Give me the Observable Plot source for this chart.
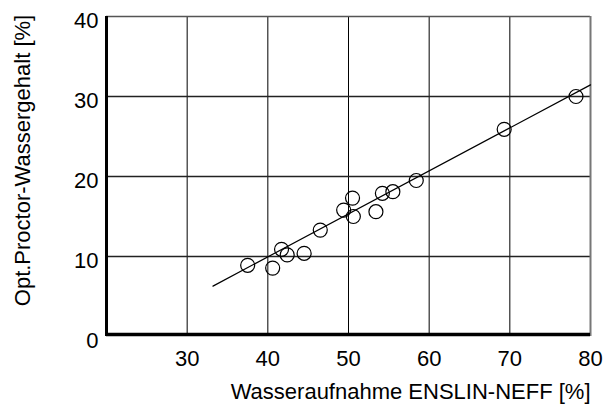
<!DOCTYPE html>
<html>
<head>
<meta charset="utf-8">
<script src="https://cdn.jsdelivr.net/npm/d3@7"></script>
<script src="https://cdn.jsdelivr.net/npm/@observablehq/plot@0.6"></script>
<style>
  html, body { margin: 0; padding: 0; background: #fff; }
  #chart svg { display: block; }
</style>
</head>
<body>
<div id="chart"></div>
<script>
// Data
const wasseraufnahme = [37.5, 40.6, 41.7, 42.4, 44.5, 46.5, 49.4, 50.5, 50.6, 53.4, 54.2, 55.5, 58.4, 69.3, 78.2];
const proctorWasser  = [8.9, 8.55, 10.9, 10.2, 10.4, 13.3, 15.8, 17.3, 15.0, 15.6, 17.9, 18.1, 19.5, 25.9, 30.0];
// regression line end points
const fitX = [33.2, 80];
const fitY = [6.3, 31.45];
const xTicks = [30, 40, 50, 60, 70, 80];
const yTicks = [0, 10, 20, 30, 40];
const xGrid = [30, 40, 50, 60, 70];
const yGrid = [10, 20, 30];
const xTitle = "Wasseraufnahme ENSLIN-NEFF [%]";
const yTitle = "Opt.Proctor-Wassergehalt [%]";

const points = wasseraufnahme.map((x, i) => ({x, y: proctorWasser[i]}));
const fit = fitX.map((x, i) => ({x, y: fitY[i]}));

const chart = Plot.plot({
  width: 605,
  height: 410,
  marginLeft: 106,
  marginRight: 15,
  marginTop: 16,
  marginBottom: 74,
  style: {fontFamily: "'Liberation Sans', Arial, Helvetica, sans-serif", fontSize: "22px", color: "#000", background: "#fff"},
  x: {domain: [20, 80]},
  y: {domain: [0, 40]},
  marks: [
    Plot.ruleX(xGrid, {stroke: "#000", strokeWidth: 1}),
    Plot.ruleY(yGrid, {stroke: "#222", strokeWidth: 1.5}),
    Plot.ruleY([40], {stroke: "#555", strokeWidth: 1.5}),
    Plot.ruleX([80], {stroke: "#777", strokeWidth: 2}),
    Plot.ruleX([20], {stroke: "#000", strokeWidth: 3}),
    Plot.ruleY([0], {stroke: "#000", strokeWidth: 3.5, dy: -2}),
    Plot.axisX(xTicks, {tickSize: 0, tickPadding: 14, label: null, fontSize: 22, tickFormat: d => String(d)}),
    Plot.axisY(yTicks, {tickSize: 0, tickPadding: 8, label: null, fontSize: 22, dy: 4, tickFormat: d => String(d)}),
    Plot.line(fit, {x: "x", y: "y", stroke: "#000", strokeWidth: 1.2}),
    Plot.dot(points, {x: "x", y: "y", r: 7, stroke: "#000", strokeWidth: 1.2, fill: "none"}),
    Plot.text([xTitle], {frameAnchor: "bottom-right", textAnchor: "end", dy: 62, dx: 0, fontSize: 22, fill: "#000"}),
    Plot.text([yTitle], {frameAnchor: "left", rotate: -90, textAnchor: "middle", dx: -84, dy: -16, fontSize: 22, fill: "#000"})
  ]
});
document.getElementById("chart").append(chart);
</script>
</body>
</html>
